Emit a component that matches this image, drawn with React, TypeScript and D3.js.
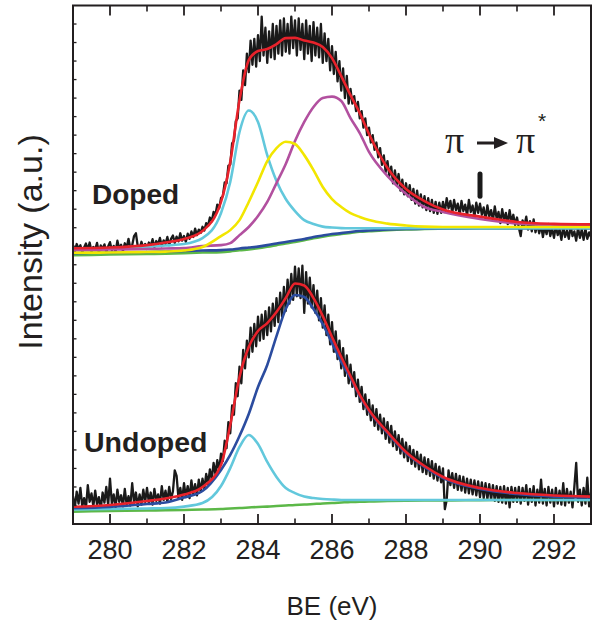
import React from 'react';
import * as d3 from 'd3';

// binding energy grid of the measured spectra (eV)
const beStart = 279;
const beStep = 0.05;

// raw counts, doped sample (a.u.)
const dopedRaw = [
  14.98, 14.72, 15.12, 14.85, 15.05, 14.66, 14.93, 15.15, 14.80, 15.20,
  14.70, 14.96, 14.82, 15.18, 14.62, 15.04, 14.88, 15.10, 14.68, 14.99,
  15.22, 14.78, 15.02, 14.70, 15.30, 14.86, 15.08, 14.74, 15.16, 14.90,
  15.40, 14.88, 15.05, 15.55, 15.70, 15.00, 14.86, 15.24, 14.92, 15.12,
  14.85, 15.20, 15.02, 15.38, 14.95, 15.28, 15.10, 15.45, 15.00, 15.32,
  15.12, 15.50, 15.06, 15.40, 15.58, 15.18, 15.52, 15.26, 15.70, 15.30,
  15.55, 15.24, 15.68, 15.40, 15.80, 15.50, 15.95, 15.60, 15.90, 15.72,
  16.05, 15.85, 16.25, 16.10, 16.55, 16.35, 16.85, 16.70, 17.25, 17.05,
  17.60, 17.70, 18.45, 18.40, 19.35, 19.40, 20.55, 20.70, 21.75, 21.90,
  23.40, 22.90, 24.50, 23.70, 25.40, 24.40, 26.10, 24.80, 26.20, 24.70,
  26.40, 25.00, 27.40, 25.30, 26.80, 24.90, 26.60, 25.20, 27.00, 25.10,
  26.90, 25.40, 27.20, 25.30, 27.30, 25.50, 27.00, 25.40, 27.40, 25.70,
  27.20, 25.30, 27.30, 25.60, 27.00, 25.10, 27.20, 25.40, 26.90, 25.00,
  27.10, 25.30, 26.80, 25.20, 27.00, 24.90, 26.50, 25.00, 26.20, 24.50,
  25.80, 24.30, 25.50, 23.90, 25.00, 23.40, 24.60, 23.00, 24.20, 22.70,
  23.50, 22.70, 23.10, 22.30, 22.80, 21.90, 22.30, 21.40, 21.90, 21.00,
  21.40, 20.60, 21.00, 20.20, 20.60, 19.80, 20.30, 19.40, 19.90, 19.00,
  19.60, 18.80, 19.30, 18.40, 19.10, 18.30, 18.90, 18.00, 18.60, 17.80,
  18.40, 17.70, 18.30, 17.50, 18.10, 17.30, 18.00, 17.20, 17.80, 17.10,
  17.70, 16.95, 17.60, 16.90, 17.50, 16.80, 17.40, 16.75, 17.35, 16.80,
  17.40, 16.85, 17.60, 17.05, 17.45, 16.80, 17.50, 16.95, 17.30, 16.70,
  17.45, 16.90, 17.25, 16.65, 17.50, 16.85, 17.20, 16.60, 17.35, 16.80,
  17.30, 16.70, 17.10, 16.45, 17.20, 16.60, 16.95, 16.40, 17.15, 16.50,
  16.85, 16.25, 17.00, 16.40, 16.80, 16.20, 16.95, 16.30, 16.70, 16.15,
  16.55, 16.00, 15.55, 16.40, 16.10, 16.60, 15.90, 16.35, 15.80, 16.45,
  15.75, 16.20, 15.70, 16.15, 15.50, 16.05, 15.65, 16.20, 15.55, 15.95,
  15.45, 16.10, 15.60, 15.90, 15.35, 16.05, 15.50, 15.85, 15.40, 16.10,
  15.55, 15.80, 15.30, 16.00, 15.45, 15.90, 15.35, 15.95, 15.40, 15.75,
  15.50,
];

// raw counts, undoped sample (a.u.)
const undopedRaw = [
  1.50, 0.90, 1.75, 1.10, 1.95, 0.95, 1.40, 0.85, 2.10, 1.20,
  1.65, 0.95, 1.80, 1.05, 1.45, 0.80, 1.70, 1.15, 2.00, 1.00,
  2.45, 1.10, 1.60, 0.90, 1.85, 1.20, 1.55, 0.95, 1.90, 1.05,
  1.50, 1.00, 2.20, 1.15, 1.70, 0.95, 1.60, 1.05, 1.85, 1.20,
  1.95, 1.15, 1.70, 1.05, 1.90, 1.25, 1.60, 1.10, 2.05, 1.30,
  1.80, 1.20, 2.00, 1.35, 1.75, 2.90, 2.60, 1.40, 1.95, 1.30,
  2.20, 1.45, 2.05, 1.40, 2.35, 1.60, 2.15, 1.55, 2.40, 1.75,
  2.45, 1.90, 2.70, 2.15, 2.95, 2.40, 3.30, 2.70, 3.45, 2.90,
  3.80, 3.40, 4.50, 4.10, 5.50, 4.90, 6.40, 5.90, 7.60, 6.90,
  8.50, 7.60, 9.40, 8.40, 9.90, 9.00, 10.60, 9.30, 10.80, 9.60,
  11.20, 9.90, 11.30, 10.00, 11.50, 10.20, 11.70, 10.40, 11.90, 10.70,
  12.20, 10.90, 12.50, 11.20, 12.80, 11.50, 13.20, 11.90, 13.50, 12.10,
  13.90, 12.30, 13.80, 12.20, 13.95, 11.40, 13.60, 11.90, 13.30, 11.70,
  12.90, 11.40, 12.60, 11.00, 12.20, 10.60, 11.80, 10.20, 11.30, 9.70,
  10.90, 9.30, 10.40, 8.90, 9.90, 8.40, 9.50, 8.00, 9.10, 7.60,
  8.60, 7.40, 8.20, 6.90, 7.80, 6.60, 7.40, 6.20, 7.00, 5.90,
  6.70, 5.60, 6.40, 5.30, 6.20, 5.10, 5.90, 4.90, 5.70, 4.60,
  5.50, 4.40, 5.30, 4.20, 5.00, 4.00, 4.80, 3.80, 4.60, 3.60,
  4.40, 3.40, 4.20, 3.25, 4.00, 3.10, 3.90, 2.95, 3.75, 2.80,
  3.60, 2.70, 3.50, 2.60, 3.40, 2.45, 3.25, 2.35, 3.10, 2.25,
  3.00, 0.80, 1.30, 2.90, 2.10, 2.75, 1.95, 2.70, 1.85, 2.60,
  1.80, 2.55, 1.70, 2.45, 1.65, 2.40, 1.60, 2.35, 1.55, 2.30,
  1.45, 2.25, 1.40, 2.20, 1.35, 2.15, 1.30, 2.10, 1.25, 2.05,
  1.20, 2.00, 1.15, 2.05, 1.10, 1.95, 0.90, 2.00, 1.20, 1.95,
  1.20, 2.00, 1.10, 1.95, 1.25, 2.10, 1.05, 1.90, 1.20, 2.05,
  1.00, 1.85, 1.15, 2.40, 1.10, 1.90, 1.00, 2.00, 1.15, 1.85,
  0.95, 1.95, 1.10, 1.80, 1.05, 2.20, 1.00, 1.90, 1.15, 1.75,
  0.90, 2.00, 3.30, 1.20, 1.85, 1.00, 1.95, 1.10, 2.50, 0.95,
  1.70,
];

// energies at which the fitted components are sampled (eV)
const fitBE = [
  279, 280, 281, 281.5, 282, 282.5, 283, 283.25, 283.5, 283.75,
  284, 284.25, 284.5, 284.75, 285, 285.25, 285.5, 285.75, 286, 286.25,
  286.5, 286.75, 287, 287.5, 288, 288.5, 289, 290, 291, 292, 293,
];

// doped fit
const dopedEnvelope = [
  14.89, 14.93, 15.06, 15.20, 15.39, 15.82, 17.39, 19.55, 22.89, 25.05,
  25.54, 25.65, 25.92, 26.24, 26.25, 26.11, 26.00, 25.76, 25.16, 24.19,
  23.16, 22.19, 21.06, 19.22, 18.09, 17.44, 16.98, 16.60, 16.31, 16.21, 16.18,
];
const dopedC1 = [
  14.83, 14.88, 14.96, 15.04, 15.12, 15.44, 16.79, 18.47, 21.17, 22.33,
  21.71, 19.92, 18.52, 17.55, 16.90, 16.41, 16.20, 16.06, 16.01, 15.98,
  15.97, 15.97, 15.97, 15.97, 15.97, 15.97, 15.97, 15.97, 15.98, 15.98, 15.98,
];
const dopedC2 = [
  14.65, 14.66, 14.69, 14.71, 14.77, 14.96, 15.55, 15.87, 16.41, 17.39,
  18.47, 19.60, 20.30, 20.64, 20.52, 19.92, 19.11, 18.20, 17.55, 17.12,
  16.79, 16.58, 16.41, 16.22, 16.12, 16.06, 16.04, 16.04, 16.04, 16.04, 16.04,
];
const dopedC3 = [
  14.79, 14.82, 14.85, 14.88, 14.90, 15.01, 15.06, 15.17, 15.60, 16.04,
  16.63, 17.39, 18.41, 19.44, 20.68, 21.71, 22.52, 23.00, 23.08, 22.84,
  21.92, 21.11, 20.09, 18.79, 17.82, 17.12, 16.85, 16.47, 16.23, 16.14, 16.12,
];
const dopedShirley = [
  14.63, 14.66, 14.69, 14.71, 14.74, 14.77, 14.79, 14.82, 14.88, 14.93,
  14.98, 15.06, 15.15, 15.23, 15.31, 15.39, 15.50, 15.58, 15.66, 15.71,
  15.77, 15.82, 15.85, 15.90, 15.93, 15.94, 15.96, 15.97, 15.97, 15.98, 15.98,
];
const dopedLinear = [
  14.52, 14.55, 14.58, 14.60, 14.63, 14.66, 14.68, 14.72, 14.78, 14.83,
  14.89, 14.97, 15.06, 15.15, 15.23, 15.32, 15.43, 15.52, 15.60, 15.66,
  15.72, 15.78, 15.81, 15.87, 15.91, 15.93, 15.95, 15.97, 15.97, 15.98, 15.98,
];

// undoped fit
const undopedEnvelope = [
  0.93, 1.03, 1.24, 1.38, 1.59, 2.00, 3.19, 5.35, 7.94, 9.56,
  10.42, 10.85, 11.45, 12.20, 12.99, 12.88, 12.20, 11.23, 10.10, 9.02,
  7.99, 6.97, 6.16, 4.97, 3.89, 3.13, 2.54, 1.94, 1.67, 1.54, 1.48,
];
const undopedMain = [
  0.85, 0.92, 1.08, 1.16, 1.43, 1.78, 2.92, 3.73, 4.75, 5.94,
  7.40, 8.59, 10.15, 11.61, 12.37, 12.26, 11.61, 10.80, 9.77, 8.75,
  7.88, 6.91, 6.10, 4.91, 3.83, 3.08, 2.48, 1.89, 1.62, 1.48, 1.43,
];
const undopedC1 = [
  0.78, 0.81, 0.84, 0.86, 0.94, 1.13, 2.05, 3.02, 4.16, 4.81,
  4.32, 3.35, 2.54, 1.94, 1.67, 1.48, 1.40, 1.35, 1.32, 1.30,
  1.30, 1.30, 1.30, 1.30, 1.30, 1.30, 1.30, 1.30, 1.30, 1.30, 1.30,
];
const undopedBg = [
  0.67, 0.70, 0.73, 0.74, 0.76, 0.78, 0.81, 0.84, 0.86, 0.89,
  0.92, 0.94, 0.97, 1.00, 1.03, 1.05, 1.08, 1.11, 1.13, 1.16,
  1.19, 1.20, 1.22, 1.24, 1.26, 1.27, 1.27, 1.29, 1.30, 1.30, 1.30,
];

const xTickLabels = [280, 282, 284, 286, 288, 290, 292];
const xMinorTicks = [279, 281, 283, 285, 287, 289, 291, 293];
const yMinorTicks = d3.range(1, 28);

// pi -> pi* marker
const markerBE = 290;
const markerRange = [17.7, 18.9];

const font = "'Liberation Sans', Arial, Helvetica, sans-serif";
const serif = "'Liberation Serif', 'DejaVu Serif', serif";
const ink = '#231f20';

export default function App() {
  const x = d3.scaleLinear().domain([279, 293]).range([73, 591]);
  const y = d3.scaleLinear().domain([0, 28]).range([524, 5.5]);

  const raw = d3.line<number>()
    .x((_, i) => x(beStart + i * beStep))
    .y(d => y(d));
  const fit = d3.line<number>()
    .x((_, i) => x(fitBE[i]))
    .y(d => y(d))
    .curve(d3.curveMonotoneX);

  const [x0, x1] = x.range();
  const [yb, yt] = y.range();

  const curves: [number[], string][] = [
    [dopedLinear, '#5cb848'],
    [dopedShirley, '#2b4c9f'],
    [dopedC1, '#62c8dc'],
    [dopedC3, '#b2509f'],
    [dopedC2, '#f2e600'],
    [dopedEnvelope, '#e8222b'],
    [undopedBg, '#5cb848'],
    [undopedC1, '#62c8dc'],
    [undopedMain, '#2b4c9f'],
    [undopedEnvelope, '#e8222b'],
  ];

  return (
    <svg width={592} height={623} style={{ position: 'absolute', left: 0, top: 0, background: '#fff' }}>
      <defs>
        <clipPath id="plot">
          <rect x={x0} y={yt} width={x1 - x0} height={yb - yt} />
        </clipPath>
      </defs>

      <g clipPath="url(#plot)">
        <path d={raw(dopedRaw) ?? ''} fill="none" stroke="#1a1a1a" strokeWidth={2.3} strokeLinejoin="round" />
        <path d={raw(undopedRaw) ?? ''} fill="none" stroke="#1a1a1a" strokeWidth={2.3} strokeLinejoin="round" />
        {curves.map(([vals, c], i) => (
          <path key={i} d={fit(vals) ?? ''} fill="none" stroke={c} strokeWidth={2.6} />
        ))}
      </g>

      {/* marker */}
      <line x1={x(markerBE)} x2={x(markerBE)} y1={y(markerRange[0])} y2={y(markerRange[1])}
        stroke="#1a1a1a" strokeWidth={5} strokeLinecap="round" />

      {/* frame and ticks */}
      <rect x={x0} y={yt} width={x1 - x0} height={yb - yt} fill="none" stroke={ink} strokeWidth={2} />
      {xTickLabels.map(t => (
        <g key={'M' + t}>
          <line x1={x(t)} x2={x(t)} y1={yb} y2={yb - 10} stroke={ink} strokeWidth={1.8} />
          <line x1={x(t)} x2={x(t)} y1={yt} y2={yt + 10} stroke={ink} strokeWidth={1.8} />
          <text x={x(t)} y={559} textAnchor="middle" fontFamily={font} fontSize={27} fill={ink}>{t}</text>
        </g>
      ))}
      {xMinorTicks.map(t => (
        <g key={'m' + t}>
          <line x1={x(t)} x2={x(t)} y1={yb} y2={yb - 5.5} stroke={ink} strokeWidth={1.6} />
          <line x1={x(t)} x2={x(t)} y1={yt} y2={yt + 6} stroke={ink} strokeWidth={1.6} />
        </g>
      ))}
      {yMinorTicks.map(t => (
        <line key={'y' + t} x1={x0} x2={x0 + 3.5} y1={y(t)} y2={y(t)} stroke={ink} strokeWidth={1.3} />
      ))}

      {/* labels */}
      <text x={(x0 + x1) / 2} y={615} textAnchor="middle" fontFamily={font} fontSize={26} fill={ink}>BE (eV)</text>
      <text transform="translate(42,242) rotate(-90)" textAnchor="middle" fontFamily={font} fontSize={34} fill={ink}>Intensity (a.u.)</text>
      <text x={92} y={204} fontFamily={font} fontSize={28} fontWeight="bold" fill={ink}>Doped</text>
      <text x={84} y={452} fontFamily={font} fontSize={28.5} fontWeight="bold" fill={ink}>Undoped</text>

      {/* pi -> pi* annotation */}
      <text x={445} y={153} fontFamily={serif} fontSize={38} fill={ink}>π</text>
      <line x1={477} x2={497} y1={143} y2={143} stroke={ink} strokeWidth={3} />
      <path d="M494,137 L508,143 L494,149 Z" fill={ink} />
      <text x={516} y={153} fontFamily={serif} fontSize={38} fill={ink}>π</text>
      <text x={542} y={128} textAnchor="middle" fontFamily={font} fontSize={21} fill={ink}>*</text>
    </svg>
  );
}
